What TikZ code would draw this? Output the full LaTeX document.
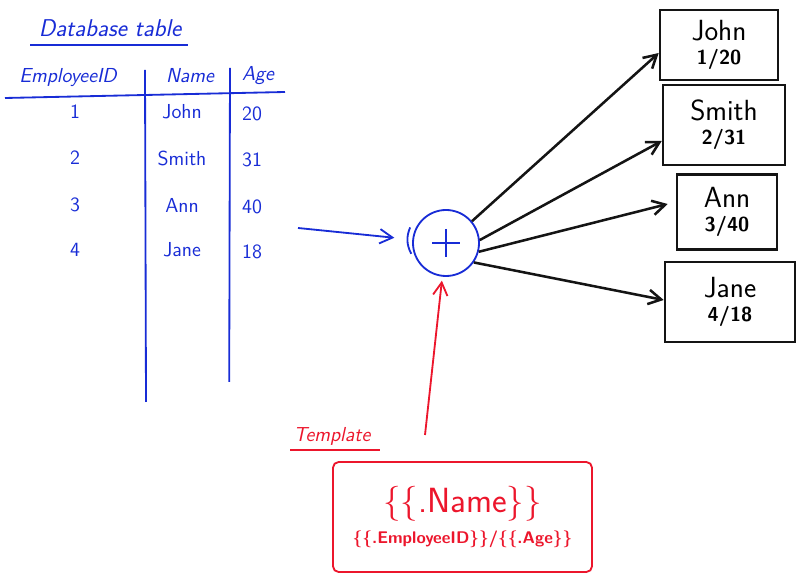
\documentclass[tikz,border=0pt]{standalone}
\usepackage{tikz}
\usetikzlibrary{arrows.meta}
\usetikzlibrary{positioning}
\usepackage{xcolor}
\definecolor{MarkerBlue}{RGB}{24,44,214}
\definecolor{MarkerRed}{RGB}{236,22,44}
\definecolor{MarkerBlack}{RGB}{20,20,20}
\newcommand{\cardfont}{\sffamily\huge}
\newcommand{\cardsubfont}{\sffamily\bfseries\Large}
\tikzset{
	>={Straight Barb[length=3.2mm,width=3.6mm]},
	blueink/.style={MarkerBlue, line width=1.3pt},
	redink/.style={MarkerRed, line width=1.3pt},
	blackink/.style={MarkerBlack, line width=1.8pt},
	hdr/.style={MarkerBlue, font=\sffamily\itshape\Large},
	cell/.style={MarkerBlue, font=\sffamily\Large},
	card/.style={draw=MarkerBlack, line width=1.8pt, align=center, inner sep=1pt},
	tmplbox/.style={draw=MarkerRed, line width=1.3pt, rounded corners=4pt, align=center, text=MarkerRed}
}

\begin{document}
\begin{tikzpicture}
	\useasboundingbox (0,0) rectangle (20,-14.475);
	
	% database table
	\node[hdr, font=\sffamily\itshape\LARGE] (title) at (2.75,-0.7) {Database table};
	\draw[blueink] (0.75,-1.125) -- (4.7,-1.125);
	\node[hdr] (hid) at (1.7,-1.95) {EmployeeID};
	\node[hdr] (hname) at (4.75,-1.9) {Name};
	\node[hdr] (hage) at (6.45,-1.9) {Age};
	\draw[blueink] (0.125,-2.45) -- (7.125,-2.3);
	\draw[blueink] (3.625,-1.75) -- (3.65,-10.05);
	\draw[blueink] (5.75,-1.7) -- (5.73,-9.55);
	
	\foreach \i/\n/\a/\y in {1/John/20/-2.8, 2/Smith/31/-3.95, 3/Ann/40/-5.125, 4/Jane/18/-6.25}{
		\node[cell] (id\i) at (1.875,\y) {\i};
		\node[cell] (name\i) at (4.55,\y) {\n};
		\node[cell] (age\i) at (6.3,\y-0.05) {\a};
	}
	
	% merge step
	\coordinate (tableout) at (7.45,-5.7);
	\node[draw=MarkerBlue, line width=1.3pt, circle, minimum size=1.65cm] (merge) at (11.15,-6.075) {};
	\draw[blueink] ([xshift=-0.35cm]merge.center) -- ([xshift=0.35cm]merge.center);
	\draw[blueink] ([yshift=0.35cm]merge.center) -- ([yshift=-0.35cm]merge.center);
	\draw[blueink] ([shift={(-0.1,0.1)}]merge.160) to[bend right=25] ([shift={(-0.05,-0.05)}]merge.195);
	\draw[blueink, ->, shorten >=0.45cm] (tableout) -- (merge);
	
	% output cards
	\node[card, minimum width=2.95cm, minimum height=1.75cm] (john) at (17.975,-1.125)
		{{\cardfont John}\\[5pt]{\cardsubfont 1/20}};
	\node[card, minimum width=3.05cm, minimum height=2cm] (smith) at (18.1,-3.125)
		{{\cardfont Smith}\\[5pt]{\cardsubfont 2/31}};
	\node[card, minimum width=2.5cm, minimum height=1.875cm] (ann) at (18.175,-5.3)
		{{\cardfont Ann}\\[5pt]{\cardsubfont 3/40}};
	\node[card, minimum width=3.25cm, minimum height=2cm] (jane) at (18.25,-7.55)
		{{\cardfont Jane}\\[5pt]{\cardsubfont 4/18}};
	
	\draw[blackink, ->] (merge.40) -- ([yshift=-0.2cm]john.west);
	\draw[blackink, ->] (merge.5) -- ([yshift=-0.4cm]smith.west);
	\draw[blackink, ->] (merge.-15) -- ([xshift=-0.2cm,yshift=0.2cm]ann.west);
	\draw[blackink, ->] (merge.-35) -- ([yshift=0.05cm]jane.west);
	
	% template
	\node[MarkerRed, font=\sffamily\itshape\Large] (tmpllabel) at (8.3,-10.9) {Template};
	\draw[redink] (7.25,-11.25) -- (9.5,-11.25);
	\node[tmplbox, minimum width=6.475cm, minimum height=2.75cm] (tmpl) at (11.5625,-12.925)
		{{\sffamily\Huge \{\{.Name\}\}}\\[6pt]{\sffamily\bfseries\large \{\{.EmployeeID\}\}/\{\{.Age\}\}}};
	\coordinate (tmplout) at (10.625,-10.875);
	\draw[redink, ->, shorten >=0.1cm] (tmplout) -- (merge);
\end{tikzpicture}
\end{document}
